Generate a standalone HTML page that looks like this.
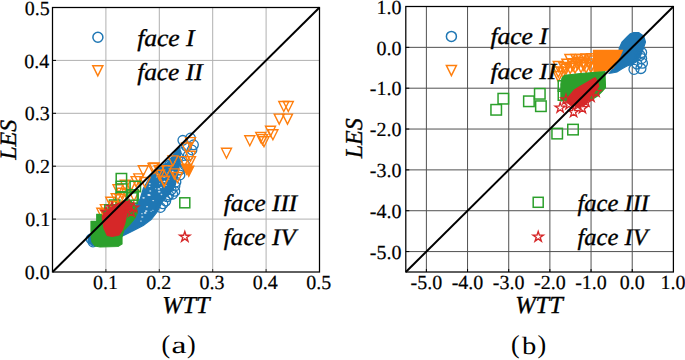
<!DOCTYPE html>
<html><head><meta charset="utf-8"><style>
html,body{margin:0;padding:0;background:#fff;}
body{width:685px;height:360px;overflow:hidden;}
svg{display:block;}
text{font-family:"Liberation Serif",serif;fill:#000;stroke:#000;stroke-width:0.45px;text-rendering:geometricPrecision;}
.tk{font-size:20px;}
.lg{font-size:24px;font-style:italic;}
.ax{font-size:24px;font-style:italic;}
.cap{font-size:26px;}
</style></head><body>
<svg width="685" height="360" viewBox="0 0 685 360">
<g id="a">
<line x1="105.9" y1="7.5" x2="105.9" y2="272" stroke="#b0b0b0" stroke-width="1"/>
<line x1="52.5" y1="219.1" x2="319.5" y2="219.1" stroke="#b0b0b0" stroke-width="1"/>
<line x1="159.3" y1="7.5" x2="159.3" y2="272" stroke="#b0b0b0" stroke-width="1"/>
<line x1="52.5" y1="166.2" x2="319.5" y2="166.2" stroke="#b0b0b0" stroke-width="1"/>
<line x1="212.7" y1="7.5" x2="212.7" y2="272" stroke="#b0b0b0" stroke-width="1"/>
<line x1="52.5" y1="113.3" x2="319.5" y2="113.3" stroke="#b0b0b0" stroke-width="1"/>
<line x1="266.1" y1="7.5" x2="266.1" y2="272" stroke="#b0b0b0" stroke-width="1"/>
<line x1="52.5" y1="60.4" x2="319.5" y2="60.4" stroke="#b0b0b0" stroke-width="1"/>
</g>
<g id="b">
<line x1="426.38" y1="6.5" x2="426.38" y2="272" stroke="#505050" stroke-width="1"/>
<line x1="405.8" y1="251.58" x2="673.4" y2="251.58" stroke="#505050" stroke-width="1"/>
<line x1="467.55" y1="6.5" x2="467.55" y2="272" stroke="#505050" stroke-width="1"/>
<line x1="405.8" y1="210.73" x2="673.4" y2="210.73" stroke="#505050" stroke-width="1"/>
<line x1="508.72" y1="6.5" x2="508.72" y2="272" stroke="#505050" stroke-width="1"/>
<line x1="405.8" y1="169.88" x2="673.4" y2="169.88" stroke="#505050" stroke-width="1"/>
<line x1="549.89" y1="6.5" x2="549.89" y2="272" stroke="#505050" stroke-width="1"/>
<line x1="405.8" y1="129.04" x2="673.4" y2="129.04" stroke="#505050" stroke-width="1"/>
<line x1="591.06" y1="6.5" x2="591.06" y2="272" stroke="#505050" stroke-width="1"/>
<line x1="405.8" y1="88.19" x2="673.4" y2="88.19" stroke="#505050" stroke-width="1"/>
<line x1="632.23" y1="6.5" x2="632.23" y2="272" stroke="#505050" stroke-width="1"/>
<line x1="405.8" y1="47.35" x2="673.4" y2="47.35" stroke="#505050" stroke-width="1"/>
</g>
<clipPath id="ca"><rect x="52.5" y="7.5" width="267.0" height="264.5"/></clipPath>
<clipPath id="cb"><rect x="405.8" y="6.5" width="267.59999999999997" height="265.5"/></clipPath>
<g clip-path="url(#ca)">
<path d="M88 241 L89 235 L94 231 L105 226 L115 221 L124.7 216 L130.2 212 L134 207 L138 202 L140.2 198.9 L143.3 188.6 L148.9 178.9 L153 173.3 L160 167.8 L167 163 L172 157 L176 151 L179 147 L181 152 L180 160 L179 168 L177 178 L175 186 L171 192 L166 197 L161.5 203.5 L157.5 211.5 L151.1 219.5 L143.3 225.5 L131.7 231.5 L120 237.2 L110 241.5 L100 245 L92 245.5Z" fill="#1f77b4" stroke="#1f77b4" stroke-width="1.2" stroke-linejoin="miter" fill-opacity="1"/>
<ellipse cx="162.51" cy="174.26" rx="0.64" ry="0.45" fill="#fff" fill-opacity="0.75"/>
<ellipse cx="149.38" cy="195.19" rx="1.26" ry="0.88" fill="#fff" fill-opacity="0.75"/>
<ellipse cx="164.24" cy="176.73" rx="1.28" ry="0.9" fill="#fff" fill-opacity="0.75"/>
<ellipse cx="141.96" cy="213.68" rx="0.8" ry="0.56" fill="#fff" fill-opacity="0.75"/>
<ellipse cx="152.96" cy="210.29" rx="0.73" ry="0.51" fill="#fff" fill-opacity="0.75"/>
<ellipse cx="155.64" cy="188.82" rx="0.64" ry="0.45" fill="#fff" fill-opacity="0.75"/>
<ellipse cx="168.58" cy="179.21" rx="0.82" ry="0.57" fill="#fff" fill-opacity="0.75"/>
<ellipse cx="164.59" cy="181.25" rx="0.81" ry="0.57" fill="#fff" fill-opacity="0.75"/>
<ellipse cx="150.25" cy="190.95" rx="0.97" ry="0.68" fill="#fff" fill-opacity="0.75"/>
<ellipse cx="153.18" cy="200.62" rx="1.02" ry="0.71" fill="#fff" fill-opacity="0.75"/>
<ellipse cx="164.36" cy="181.5" rx="1.19" ry="0.83" fill="#fff" fill-opacity="0.75"/>
<ellipse cx="158.87" cy="188.96" rx="1.22" ry="0.85" fill="#fff" fill-opacity="0.75"/>
<ellipse cx="149.8" cy="183.8" rx="1.01" ry="0.71" fill="#fff" fill-opacity="0.75"/>
<ellipse cx="157.6" cy="174.54" rx="1" ry="0.7" fill="#fff" fill-opacity="0.75"/>
<ellipse cx="161.65" cy="194.41" rx="1.07" ry="0.75" fill="#fff" fill-opacity="0.75"/>
<ellipse cx="142.27" cy="216.96" rx="1.15" ry="0.8" fill="#fff" fill-opacity="0.75"/>
<ellipse cx="156.48" cy="176.92" rx="0.67" ry="0.47" fill="#fff" fill-opacity="0.75"/>
<ellipse cx="145.16" cy="212.91" rx="1.3" ry="0.91" fill="#fff" fill-opacity="0.75"/>
<ellipse cx="159.57" cy="183.71" rx="0.66" ry="0.46" fill="#fff" fill-opacity="0.75"/>
<ellipse cx="151.12" cy="211.31" rx="0.71" ry="0.5" fill="#fff" fill-opacity="0.75"/>
<ellipse cx="140.97" cy="221.08" rx="0.97" ry="0.68" fill="#fff" fill-opacity="0.75"/>
<ellipse cx="169.24" cy="165.89" rx="0.86" ry="0.6" fill="#fff" fill-opacity="0.75"/>
<ellipse cx="147.02" cy="206.76" rx="0.97" ry="0.68" fill="#fff" fill-opacity="0.75"/>
<ellipse cx="172.72" cy="171.37" rx="0.76" ry="0.53" fill="#fff" fill-opacity="0.75"/>
<ellipse cx="149.52" cy="186.41" rx="0.85" ry="0.59" fill="#fff" fill-opacity="0.75"/>
<ellipse cx="148.58" cy="194.93" rx="1.23" ry="0.86" fill="#fff" fill-opacity="0.75"/>
<ellipse cx="143.56" cy="197.85" rx="1.24" ry="0.87" fill="#fff" fill-opacity="0.75"/>
<ellipse cx="173.14" cy="171.6" rx="1.16" ry="0.81" fill="#fff" fill-opacity="0.75"/>
<ellipse cx="146.14" cy="211.12" rx="1.29" ry="0.9" fill="#fff" fill-opacity="0.75"/>
<ellipse cx="167.61" cy="173.03" rx="0.98" ry="0.69" fill="#fff" fill-opacity="0.75"/>
<ellipse cx="174.7" cy="161.88" rx="0.78" ry="0.54" fill="#fff" fill-opacity="0.75"/>
<ellipse cx="159.24" cy="191.67" rx="1.23" ry="0.86" fill="#fff" fill-opacity="0.75"/>
<ellipse cx="161.07" cy="187.55" rx="0.97" ry="0.68" fill="#fff" fill-opacity="0.75"/>
<ellipse cx="163.37" cy="171.08" rx="0.96" ry="0.67" fill="#fff" fill-opacity="0.75"/>
<ellipse cx="165.73" cy="185.44" rx="0.96" ry="0.67" fill="#fff" fill-opacity="0.75"/>
<circle cx="182.8" cy="140.3" r="4.8" fill="none" stroke="#1f77b4" stroke-width="1.3"/>
<circle cx="190.5" cy="138" r="4.8" fill="none" stroke="#1f77b4" stroke-width="1.3"/>
<circle cx="186.6" cy="146.4" r="4.8" fill="none" stroke="#1f77b4" stroke-width="1.3"/>
<circle cx="193.5" cy="144.8" r="4.8" fill="none" stroke="#1f77b4" stroke-width="1.3"/>
<circle cx="182" cy="152.5" r="4.8" fill="none" stroke="#1f77b4" stroke-width="1.3"/>
<circle cx="178.2" cy="157" r="4.8" fill="none" stroke="#1f77b4" stroke-width="1.3"/>
<circle cx="188.2" cy="155.5" r="4.8" fill="none" stroke="#1f77b4" stroke-width="1.3"/>
<circle cx="174.4" cy="161.6" r="4.8" fill="none" stroke="#1f77b4" stroke-width="1.3"/>
<circle cx="169.8" cy="164.7" r="4.8" fill="none" stroke="#1f77b4" stroke-width="1.3"/>
<circle cx="166" cy="168.5" r="4.8" fill="none" stroke="#1f77b4" stroke-width="1.3"/>
<circle cx="185" cy="165" r="4.8" fill="none" stroke="#1f77b4" stroke-width="1.3"/>
<circle cx="180" cy="170" r="4.8" fill="none" stroke="#1f77b4" stroke-width="1.3"/>
<circle cx="192" cy="150" r="4.8" fill="none" stroke="#1f77b4" stroke-width="1.3"/>
<circle cx="178.75" cy="170" r="4.8" fill="none" stroke="#1f77b4" stroke-width="1.3"/>
<circle cx="180" cy="175" r="4.8" fill="none" stroke="#1f77b4" stroke-width="1.3"/>
<circle cx="171.25" cy="190" r="4.8" fill="none" stroke="#1f77b4" stroke-width="1.3"/>
<circle cx="168.75" cy="195" r="4.8" fill="none" stroke="#1f77b4" stroke-width="1.3"/>
<circle cx="174.9" cy="191.4" r="4.8" fill="none" stroke="#1f77b4" stroke-width="1.3"/>
<circle cx="172.8" cy="194.2" r="4.8" fill="none" stroke="#1f77b4" stroke-width="1.3"/>
<circle cx="167.2" cy="196.9" r="4.8" fill="none" stroke="#1f77b4" stroke-width="1.3"/>
<circle cx="176" cy="182" r="4.8" fill="none" stroke="#1f77b4" stroke-width="1.3"/>
<circle cx="175" cy="186" r="4.8" fill="none" stroke="#1f77b4" stroke-width="1.3"/>
<circle cx="165.8" cy="201.1" r="4.8" fill="none" stroke="#1f77b4" stroke-width="1.3"/>
<circle cx="163" cy="203.9" r="4.8" fill="none" stroke="#1f77b4" stroke-width="1.3"/>
<circle cx="160.5" cy="207.5" r="4.8" fill="none" stroke="#1f77b4" stroke-width="1.3"/>
<circle cx="91" cy="239" r="4.8" fill="none" stroke="#1f77b4" stroke-width="1.3"/>
<circle cx="93" cy="242" r="4.8" fill="none" stroke="#1f77b4" stroke-width="1.3"/>
<path d="M221.5 148.2H231.5L226.5 158.2Z" fill="none" stroke="#ff7f0e" stroke-width="1.4" stroke-linejoin="miter"/>
<path d="M244.8 135.7H254.8L249.8 145.7Z" fill="none" stroke="#ff7f0e" stroke-width="1.4" stroke-linejoin="miter"/>
<path d="M255.75 132.5H265.75L260.75 142.5Z" fill="none" stroke="#ff7f0e" stroke-width="1.4" stroke-linejoin="miter"/>
<path d="M257.5 134.6H267.5L262.5 144.6Z" fill="none" stroke="#ff7f0e" stroke-width="1.4" stroke-linejoin="miter"/>
<path d="M259 136.7H269L264 146.7Z" fill="none" stroke="#ff7f0e" stroke-width="1.4" stroke-linejoin="miter"/>
<path d="M265.5 126.3H275.5L270.5 136.3Z" fill="none" stroke="#ff7f0e" stroke-width="1.4" stroke-linejoin="miter"/>
<path d="M267.9 129.75H277.9L272.9 139.75Z" fill="none" stroke="#ff7f0e" stroke-width="1.4" stroke-linejoin="miter"/>
<path d="M274.2 114.1H284.2L279.2 124.1Z" fill="none" stroke="#ff7f0e" stroke-width="1.4" stroke-linejoin="miter"/>
<path d="M282.5 114.1H292.5L287.5 124.1Z" fill="none" stroke="#ff7f0e" stroke-width="1.4" stroke-linejoin="miter"/>
<path d="M278.8 101.5H288.8L283.8 111.5Z" fill="none" stroke="#ff7f0e" stroke-width="1.4" stroke-linejoin="miter"/>
<path d="M283.3 101.5H293.3L288.3 111.5Z" fill="none" stroke="#ff7f0e" stroke-width="1.4" stroke-linejoin="miter"/>
<path d="M185.5 137.6H195.5L190.5 147.6Z" fill="none" stroke="#ff7f0e" stroke-width="1.4" stroke-linejoin="miter"/>
<path d="M181.6 143H191.6L186.6 153Z" fill="none" stroke="#ff7f0e" stroke-width="1.4" stroke-linejoin="miter"/>
<path d="M185.5 151.3H195.5L190.5 161.3Z" fill="none" stroke="#ff7f0e" stroke-width="1.4" stroke-linejoin="miter"/>
<path d="M185.5 156.6H195.5L190.5 166.6Z" fill="none" stroke="#ff7f0e" stroke-width="1.4" stroke-linejoin="miter"/>
<path d="M167.9 155.9H177.9L172.9 165.9Z" fill="none" stroke="#ff7f0e" stroke-width="1.4" stroke-linejoin="miter"/>
<path d="M179.4 156.6H189.4L184.4 166.6Z" fill="none" stroke="#ff7f0e" stroke-width="1.4" stroke-linejoin="miter"/>
<path d="M169.4 168.9H179.4L174.4 178.9Z" fill="none" stroke="#ff7f0e" stroke-width="1.4" stroke-linejoin="miter"/>
<path d="M161.8 165.8H171.8L166.8 175.8Z" fill="none" stroke="#ff7f0e" stroke-width="1.4" stroke-linejoin="miter"/>
<path d="M154.2 165.8H164.2L159.2 175.8Z" fill="none" stroke="#ff7f0e" stroke-width="1.4" stroke-linejoin="miter"/>
<path d="M148 163.5H158L153 173.5Z" fill="none" stroke="#ff7f0e" stroke-width="1.4" stroke-linejoin="miter"/>
<path d="M172.5 172.5H182.5L177.5 182.5Z" fill="none" stroke="#ff7f0e" stroke-width="1.4" stroke-linejoin="miter"/>
<path d="M159.4 176.25H169.4L164.4 186.25Z" fill="none" stroke="#ff7f0e" stroke-width="1.4" stroke-linejoin="miter"/>
<path d="M138.3 165.8H148.3L143.3 175.8Z" fill="none" stroke="#ff7f0e" stroke-width="1.4" stroke-linejoin="miter"/>
<path d="M149.2 163H159.2L154.2 173Z" fill="none" stroke="#ff7f0e" stroke-width="1.4" stroke-linejoin="miter"/>
<path d="M154.6 170.3H164.6L159.6 180.3Z" fill="none" stroke="#ff7f0e" stroke-width="1.4" stroke-linejoin="miter"/>
<path d="M159.1 176.6H169.1L164.1 186.6Z" fill="none" stroke="#ff7f0e" stroke-width="1.4" stroke-linejoin="miter"/>
<path d="M133.8 173.9H143.8L138.8 183.9Z" fill="none" stroke="#ff7f0e" stroke-width="1.4" stroke-linejoin="miter"/>
<path d="M131.1 176.6H141.1L136.1 186.6Z" fill="none" stroke="#ff7f0e" stroke-width="1.4" stroke-linejoin="miter"/>
<path d="M140.1 177.5H150.1L145.1 187.5Z" fill="none" stroke="#ff7f0e" stroke-width="1.4" stroke-linejoin="miter"/>
<path d="M120.3 180.2H130.3L125.3 190.2Z" fill="none" stroke="#ff7f0e" stroke-width="1.4" stroke-linejoin="miter"/>
<path d="M125.7 181.1H135.7L130.7 191.1Z" fill="none" stroke="#ff7f0e" stroke-width="1.4" stroke-linejoin="miter"/>
<path d="M113 184.7H123L118 194.7Z" fill="none" stroke="#ff7f0e" stroke-width="1.4" stroke-linejoin="miter"/>
<path d="M116.7 188.3H126.7L121.7 198.3Z" fill="none" stroke="#ff7f0e" stroke-width="1.4" stroke-linejoin="miter"/>
<path d="M111.2 193.7H121.2L116.2 203.7Z" fill="none" stroke="#ff7f0e" stroke-width="1.4" stroke-linejoin="miter"/>
<path d="M105.8 197.3H115.8L110.8 207.3Z" fill="none" stroke="#ff7f0e" stroke-width="1.4" stroke-linejoin="miter"/>
<path d="M100.4 204.6H110.4L105.4 214.6Z" fill="none" stroke="#ff7f0e" stroke-width="1.4" stroke-linejoin="miter"/>
<path d="M96.8 208.2H106.8L101.8 218.2Z" fill="none" stroke="#ff7f0e" stroke-width="1.4" stroke-linejoin="miter"/>
<path d="M122 189.2H132L127 199.2Z" fill="none" stroke="#ff7f0e" stroke-width="1.4" stroke-linejoin="miter"/>
<path d="M129 191H139L134 201Z" fill="none" stroke="#ff7f0e" stroke-width="1.4" stroke-linejoin="miter"/>
<path d="M183.75 166.25H193.75L188.75 176.25Z" fill="#ff7f0e" stroke="#ff7f0e" stroke-width="1.4"/>
<path d="M181.6 164.3H191.6L186.6 174.3Z" fill="#ff7f0e" stroke="#ff7f0e" stroke-width="1.4"/>
<path d="M91.3 238 L91.3 221.5 L97 221.5 L97 214.5 L103 214.5 L103 210 L108 210 L108 207 L113 205 L116 204.3 L110.6 208 L106.9 210.9 L102.2 216.5 L103 222 L104 228.3 L107.3 235.5 L112.3 236.5 L119 235 L122 231 L122 244 L118 246.5 L100 247 L95 246 L92 242Z" fill="#2ca02c" stroke="#2ca02c" stroke-width="1.2" stroke-linejoin="miter" fill-opacity="1"/>
<path d="M124 201 L131 201 L136 206 L137.5 212 L135 218 L130 224 L124 230 L122 236 L121 231 L124.8 223.3 L126.5 215 L127.5 212 L130 209 L130 205Z" fill="#2ca02c" stroke="#2ca02c" stroke-width="1.2" stroke-linejoin="miter" fill-opacity="1"/>
<rect x="116.2" y="173.5" width="10.4" height="10.4" fill="none" stroke="#2ca02c" stroke-width="1.5"/>
<rect x="116.2" y="181.3" width="10.4" height="10.4" fill="none" stroke="#2ca02c" stroke-width="1.5"/>
<rect x="130.1" y="181.3" width="10.4" height="10.4" fill="none" stroke="#2ca02c" stroke-width="1.5"/>
<rect x="127.8" y="189.8" width="10.4" height="10.4" fill="none" stroke="#2ca02c" stroke-width="1.5"/>
<rect x="91.3" y="221.5" width="10.4" height="10.4" fill="none" stroke="#2ca02c" stroke-width="1.5"/>
<rect x="97" y="214.5" width="10.4" height="10.4" fill="none" stroke="#2ca02c" stroke-width="1.5"/>
<rect x="103" y="210" width="10.4" height="10.4" fill="none" stroke="#2ca02c" stroke-width="1.5"/>
<rect x="109.5" y="200" width="10.4" height="10.4" fill="none" stroke="#2ca02c" stroke-width="1.5"/>
<rect x="116" y="192.5" width="10.4" height="10.4" fill="none" stroke="#2ca02c" stroke-width="1.5"/>
<rect x="104.8" y="204.8" width="10.4" height="10.4" fill="none" stroke="#2ca02c" stroke-width="1.5"/>
<rect x="126.8" y="192.8" width="10.4" height="10.4" fill="none" stroke="#2ca02c" stroke-width="1.5"/>
<path d="M115 194.5H125L120 204.5Z" fill="none" stroke="#ff7f0e" stroke-width="1.4" stroke-linejoin="miter"/>
<path d="M108.4 201.5H118.4L113.4 211.5Z" fill="none" stroke="#ff7f0e" stroke-width="1.4" stroke-linejoin="miter"/>
<path d="M100.2 209.5H110.2L105.2 219.5Z" fill="none" stroke="#ff7f0e" stroke-width="1.4" stroke-linejoin="miter"/>
<path d="M103 222 L102.2 216.5 L106.9 210.9 L110.6 208 L116.3 204.3 L123.8 201.4 L128 201.5 L130 205 L130 209 L127.5 212 L126.5 215 L124.8 223.3 L122.3 230 L119 235 L112.3 236.5 L107.3 235.5 L104 228.3Z" fill="#d62728" stroke="#d62728" stroke-width="1.2" stroke-linejoin="miter" fill-opacity="1"/>
<path d="M129.1 199.8 L130.26 203.4 L134.05 203.39 L130.98 205.61 L132.16 209.21 L129.1 206.98 L126.04 209.21 L127.22 205.61 L124.15 203.39 L127.94 203.4Z" fill="none" stroke="#d62728" stroke-width="1.3" stroke-linejoin="miter"/>
<path d="M133.6 202.6 L134.76 206.2 L138.55 206.19 L135.48 208.41 L136.66 212.01 L133.6 209.78 L130.54 212.01 L131.72 208.41 L128.65 206.19 L132.44 206.2Z" fill="none" stroke="#d62728" stroke-width="1.3" stroke-linejoin="miter"/>
<path d="M131.3 207 L132.46 210.6 L136.25 210.59 L133.18 212.81 L134.36 216.41 L131.3 214.18 L128.24 216.41 L129.42 212.81 L126.35 210.59 L130.14 210.6Z" fill="none" stroke="#d62728" stroke-width="1.3" stroke-linejoin="miter"/>
<path d="M126 203.8 L127.16 207.4 L130.95 207.39 L127.88 209.61 L129.06 213.21 L126 210.98 L122.94 213.21 L124.12 209.61 L121.05 207.39 L124.84 207.4Z" fill="none" stroke="#d62728" stroke-width="1.3" stroke-linejoin="miter"/>
<path d="M106 206.8 L107.16 210.4 L110.95 210.39 L107.88 212.61 L109.06 216.21 L106 213.98 L102.94 216.21 L104.12 212.61 L101.05 210.39 L104.84 210.4Z" fill="none" stroke="#d62728" stroke-width="1.3" stroke-linejoin="miter"/>
<path d="M112 201.8 L113.16 205.4 L116.95 205.39 L113.88 207.61 L115.06 211.21 L112 208.98 L108.94 211.21 L110.12 207.61 L107.05 205.39 L110.84 205.4Z" fill="none" stroke="#d62728" stroke-width="1.3" stroke-linejoin="miter"/>
</g>
<g clip-path="url(#cb)">
<path d="M630.3 33.7 L633.7 32.5 L638.7 32.5 L643.7 36 L645.5 42 L644 46.5 L642.5 51 L640 57 L636 62 L632 64.5 L627 66 L622 68.7 L617 72 L612 73 L609.4 73.3 L612 70 L617 64 L619 58 L619.2 48.3 L622 42 L627 37Z" fill="#1f77b4" stroke="#1f77b4" stroke-width="1.2" stroke-linejoin="miter" fill-opacity="1"/>
<circle cx="634" cy="69.3" r="5" fill="none" stroke="#1f77b4" stroke-width="1.3"/>
<circle cx="640.9" cy="68.5" r="5" fill="none" stroke="#1f77b4" stroke-width="1.3"/>
<circle cx="642.4" cy="63.2" r="5" fill="none" stroke="#1f77b4" stroke-width="1.3"/>
<circle cx="641.6" cy="58.6" r="5" fill="none" stroke="#1f77b4" stroke-width="1.3"/>
<circle cx="640.1" cy="55.5" r="5" fill="none" stroke="#1f77b4" stroke-width="1.3"/>
<circle cx="641.6" cy="52.5" r="5" fill="none" stroke="#1f77b4" stroke-width="1.3"/>
<circle cx="637" cy="64" r="5" fill="none" stroke="#1f77b4" stroke-width="1.3"/>
<path d="M593.5 50.4 L622.4 50.4 L620 56 L616 63 L613 68 L606 70.4 L599 71.5 L594 72.3 L593.5 60Z" fill="#ff7f0e" stroke="#ff7f0e" stroke-width="1.2" stroke-linejoin="miter" fill-opacity="1"/>
<path d="M564.94 54.56H574.94L569.94 64.56Z" fill="none" stroke="#ff7f0e" stroke-width="1.5" stroke-linejoin="miter"/>
<path d="M571.01 54.47H581.01L576.01 64.47Z" fill="none" stroke="#ff7f0e" stroke-width="1.5" stroke-linejoin="miter"/>
<path d="M576.01 54.39H586.01L581.01 64.39Z" fill="none" stroke="#ff7f0e" stroke-width="1.5" stroke-linejoin="miter"/>
<path d="M581.12 54.01H591.12L586.12 64.01Z" fill="none" stroke="#ff7f0e" stroke-width="1.5" stroke-linejoin="miter"/>
<path d="M586.66 53.79H596.66L591.66 63.79Z" fill="none" stroke="#ff7f0e" stroke-width="1.5" stroke-linejoin="miter"/>
<path d="M567.01 58.8H577.01L572.01 68.8Z" fill="none" stroke="#ff7f0e" stroke-width="1.5" stroke-linejoin="miter"/>
<path d="M572.51 59.31H582.51L577.51 69.31Z" fill="none" stroke="#ff7f0e" stroke-width="1.5" stroke-linejoin="miter"/>
<path d="M578.73 58.04H588.73L583.73 68.04Z" fill="none" stroke="#ff7f0e" stroke-width="1.5" stroke-linejoin="miter"/>
<path d="M584.58 58.96H594.58L589.58 68.96Z" fill="none" stroke="#ff7f0e" stroke-width="1.5" stroke-linejoin="miter"/>
<path d="M565.18 63.62H575.18L570.18 73.62Z" fill="none" stroke="#ff7f0e" stroke-width="1.5" stroke-linejoin="miter"/>
<path d="M570.09 63.02H580.09L575.09 73.02Z" fill="none" stroke="#ff7f0e" stroke-width="1.5" stroke-linejoin="miter"/>
<path d="M576.03 62.56H586.03L581.03 72.56Z" fill="none" stroke="#ff7f0e" stroke-width="1.5" stroke-linejoin="miter"/>
<path d="M581.13 62.74H591.13L586.13 72.74Z" fill="none" stroke="#ff7f0e" stroke-width="1.5" stroke-linejoin="miter"/>
<path d="M585.94 62.46H595.94L590.94 72.46Z" fill="none" stroke="#ff7f0e" stroke-width="1.5" stroke-linejoin="miter"/>
<path d="M561.93 59.34H571.93L566.93 69.34Z" fill="none" stroke="#ff7f0e" stroke-width="1.5" stroke-linejoin="miter"/>
<path d="M561.02 64.14H571.02L566.02 74.14Z" fill="none" stroke="#ff7f0e" stroke-width="1.5" stroke-linejoin="miter"/>
<path d="M568 61.16H578L573 71.16Z" fill="none" stroke="#ff7f0e" stroke-width="1.5" stroke-linejoin="miter"/>
<path d="M578.95 60.78H588.95L583.95 70.78Z" fill="none" stroke="#ff7f0e" stroke-width="1.5" stroke-linejoin="miter"/>
<path d="M585.1 56H595.1L590.1 66Z" fill="none" stroke="#ff7f0e" stroke-width="1.5" stroke-linejoin="miter"/>
<path d="M574.41 57.21H584.41L579.41 67.21Z" fill="none" stroke="#ff7f0e" stroke-width="1.5" stroke-linejoin="miter"/>
<path d="M553.3 61.5H563.3L558.3 71.5Z" fill="none" stroke="#ff7f0e" stroke-width="1.5" stroke-linejoin="miter"/>
<path d="M553.3 67H563.3L558.3 77Z" fill="none" stroke="#ff7f0e" stroke-width="1.5" stroke-linejoin="miter"/>
<path d="M553.3 71.5H563.3L558.3 81.5Z" fill="none" stroke="#ff7f0e" stroke-width="1.5" stroke-linejoin="miter"/>
<path d="M558.8 62.5H568.8L563.8 72.5Z" fill="none" stroke="#ff7f0e" stroke-width="1.5" stroke-linejoin="miter"/>
<path d="M558 67.5H568L563 77.5Z" fill="none" stroke="#ff7f0e" stroke-width="1.5" stroke-linejoin="miter"/>
<path d="M564.6 75.3 L580.4 73.5 L596.3 72.3 L604.9 71.7 L605.5 87.5 L602.4 91.2 L597.5 96.1 L591.4 99.8 L568.2 101 L560.9 101 L560.9 84 L562 78Z" fill="#2ca02c" stroke="#2ca02c" stroke-width="1.2" stroke-linejoin="miter" fill-opacity="1"/>
<rect x="498.05" y="93.45" width="10.5" height="10.5" fill="none" stroke="#2ca02c" stroke-width="1.5"/>
<rect x="490.95" y="104.55" width="10.5" height="10.5" fill="none" stroke="#2ca02c" stroke-width="1.5"/>
<rect x="523.65" y="96.05" width="10.5" height="10.5" fill="none" stroke="#2ca02c" stroke-width="1.5"/>
<rect x="534.55" y="88.55" width="10.5" height="10.5" fill="none" stroke="#2ca02c" stroke-width="1.5"/>
<rect x="535.65" y="100.95" width="10.5" height="10.5" fill="none" stroke="#2ca02c" stroke-width="1.5"/>
<rect x="551.95" y="128.35" width="10.5" height="10.5" fill="none" stroke="#2ca02c" stroke-width="1.5"/>
<rect x="567.75" y="124.35" width="10.5" height="10.5" fill="none" stroke="#2ca02c" stroke-width="1.5"/>
<rect x="558.25" y="80.75" width="10.5" height="10.5" fill="none" stroke="#2ca02c" stroke-width="1.5"/>
<rect x="558.25" y="89.75" width="10.5" height="10.5" fill="none" stroke="#2ca02c" stroke-width="1.5"/>
<path d="M568.2 97.3 L574.3 90 L580.4 86.3 L586.5 82.7 L592.7 79 L595.1 77.8 L597.5 81.4 L598.8 86.3 L595.1 91.2 L591.4 94.9 L589 99 L587 103 L583 105.5 L577 106.5 L570 105 L567 101Z" fill="#d62728" stroke="#d62728" stroke-width="1.2" stroke-linejoin="miter" fill-opacity="1"/>
<path d="M560.2 102.4 L561.41 106.14 L565.34 106.13 L562.15 108.43 L563.37 112.17 L560.2 109.85 L557.03 112.17 L558.25 108.43 L555.06 106.13 L558.99 106.14Z" fill="none" stroke="#d62728" stroke-width="1.3" stroke-linejoin="miter"/>
<path d="M573.6 106.8 L574.81 110.54 L578.74 110.53 L575.55 112.83 L576.77 116.57 L573.6 114.25 L570.43 116.57 L571.65 112.83 L568.46 110.53 L572.39 110.54Z" fill="none" stroke="#d62728" stroke-width="1.3" stroke-linejoin="miter"/>
<path d="M582.4 102.9 L583.61 106.64 L587.54 106.63 L584.35 108.93 L585.57 112.67 L582.4 110.35 L579.23 112.67 L580.45 108.93 L577.26 106.63 L581.19 106.64Z" fill="none" stroke="#d62728" stroke-width="1.3" stroke-linejoin="miter"/>
<path d="M569 99.1 L570.21 102.84 L574.14 102.83 L570.95 105.13 L572.17 108.87 L569 106.55 L565.83 108.87 L567.05 105.13 L563.86 102.83 L567.79 102.84Z" fill="none" stroke="#d62728" stroke-width="1.3" stroke-linejoin="miter"/>
<path d="M578 99.6 L579.21 103.34 L583.14 103.33 L579.95 105.63 L581.17 109.37 L578 107.05 L574.83 109.37 L576.05 105.63 L572.86 103.33 L576.79 103.34Z" fill="none" stroke="#d62728" stroke-width="1.3" stroke-linejoin="miter"/>
<path d="M586 96.6 L587.21 100.34 L591.14 100.33 L587.95 102.63 L589.17 106.37 L586 104.05 L582.83 106.37 L584.05 102.63 L580.86 100.33 L584.79 100.34Z" fill="none" stroke="#d62728" stroke-width="1.3" stroke-linejoin="miter"/>
<path d="M591 91.6 L592.21 95.34 L596.14 95.33 L592.95 97.63 L594.17 101.37 L591 99.05 L587.83 101.37 L589.05 97.63 L585.86 95.33 L589.79 95.34Z" fill="none" stroke="#d62728" stroke-width="1.3" stroke-linejoin="miter"/>
<path d="M596 86.6 L597.21 90.34 L601.14 90.33 L597.95 92.63 L599.17 96.37 L596 94.05 L592.83 96.37 L594.05 92.63 L590.86 90.33 L594.79 90.34Z" fill="none" stroke="#d62728" stroke-width="1.3" stroke-linejoin="miter"/>
<path d="M566 94.1 L567.21 97.84 L571.14 97.83 L567.95 100.13 L569.17 103.87 L566 101.55 L562.83 103.87 L564.05 100.13 L560.86 97.83 L564.79 97.84Z" fill="none" stroke="#d62728" stroke-width="1.3" stroke-linejoin="miter"/>
</g>
<line x1="52.5" y1="219.1" x2="56" y2="219.1" stroke="#000" stroke-width="1"/>
<line x1="105.9" y1="272" x2="105.9" y2="269" stroke="#333" stroke-width="1"/>
<line x1="52.5" y1="166.2" x2="56" y2="166.2" stroke="#000" stroke-width="1"/>
<line x1="159.3" y1="272" x2="159.3" y2="269" stroke="#333" stroke-width="1"/>
<line x1="52.5" y1="113.3" x2="56" y2="113.3" stroke="#000" stroke-width="1"/>
<line x1="212.7" y1="272" x2="212.7" y2="269" stroke="#333" stroke-width="1"/>
<line x1="52.5" y1="60.4" x2="56" y2="60.4" stroke="#000" stroke-width="1"/>
<line x1="266.1" y1="272" x2="266.1" y2="269" stroke="#333" stroke-width="1"/>
<line x1="405.8" y1="251.58" x2="409.3" y2="251.58" stroke="#000" stroke-width="1"/>
<line x1="426.38" y1="272" x2="426.38" y2="269" stroke="#000" stroke-width="1"/>
<line x1="405.8" y1="210.73" x2="409.3" y2="210.73" stroke="#000" stroke-width="1"/>
<line x1="467.55" y1="272" x2="467.55" y2="269" stroke="#000" stroke-width="1"/>
<line x1="405.8" y1="169.88" x2="409.3" y2="169.88" stroke="#000" stroke-width="1"/>
<line x1="508.72" y1="272" x2="508.72" y2="269" stroke="#000" stroke-width="1"/>
<line x1="405.8" y1="129.04" x2="409.3" y2="129.04" stroke="#000" stroke-width="1"/>
<line x1="549.89" y1="272" x2="549.89" y2="269" stroke="#000" stroke-width="1"/>
<line x1="405.8" y1="88.19" x2="409.3" y2="88.19" stroke="#000" stroke-width="1"/>
<line x1="591.06" y1="272" x2="591.06" y2="269" stroke="#000" stroke-width="1"/>
<line x1="405.8" y1="47.35" x2="409.3" y2="47.35" stroke="#000" stroke-width="1"/>
<line x1="632.23" y1="272" x2="632.23" y2="269" stroke="#000" stroke-width="1"/>
<line x1="52.5" y1="272" x2="319.5" y2="7.5" stroke="#000" stroke-width="2"/>
<line x1="405.8" y1="272" x2="673.4" y2="6.5" stroke="#000" stroke-width="2"/>
<rect x="52.5" y="7.5" width="267" height="264.5" fill="none" stroke="#000" stroke-width="1.25"/>
<rect x="405.8" y="6.5" width="267.6" height="265.5" fill="none" stroke="#000" stroke-width="1.25"/>
<circle cx="97.9" cy="37.3" r="5" fill="none" stroke="#1f77b4" stroke-width="1.5"/>
<path d="M92.8 65.8H102.8L97.8 75.8Z" fill="none" stroke="#ff7f0e" stroke-width="1.5" stroke-linejoin="miter"/>
<rect x="179.8" y="197.8" width="10" height="10" fill="none" stroke="#2ca02c" stroke-width="1.5"/>
<path d="M184.8 231.5 L186.01 235.24 L189.94 235.23 L186.75 237.53 L187.97 241.27 L184.8 238.95 L181.63 241.27 L182.85 237.53 L179.66 235.23 L183.59 235.24Z" fill="none" stroke="#d62728" stroke-width="1.4" stroke-linejoin="miter"/>
<circle cx="451.4" cy="36.4" r="5" fill="none" stroke="#1f77b4" stroke-width="1.5"/>
<path d="M446.4 65.6H456.4L451.4 75.6Z" fill="none" stroke="#ff7f0e" stroke-width="1.5" stroke-linejoin="miter"/>
<rect x="533.2" y="197.3" width="10" height="10" fill="none" stroke="#2ca02c" stroke-width="1.5"/>
<path d="M538.2 231.4 L539.41 235.14 L543.34 235.13 L540.15 237.43 L541.37 241.17 L538.2 238.85 L535.03 241.17 L536.25 237.43 L533.06 235.13 L536.99 235.14Z" fill="none" stroke="#d62728" stroke-width="1.4" stroke-linejoin="miter"/>
<text transform="translate(137.13,45.59) scale(1.0648,1.0023)" style="font-size:24px;font-style:italic;stroke-width:0.35px">face I</text>
<text transform="translate(137.14,79.77) scale(1.0560,1.0069)" style="font-size:24px;font-style:italic;stroke-width:0.35px">face II</text>
<text transform="translate(223.84,210.73) scale(1.0482,0.9931)" style="font-size:24px;font-style:italic;stroke-width:0.35px">face III</text>
<text transform="translate(223.84,245.03) scale(1.0482,0.9931)" style="font-size:24px;font-style:italic;stroke-width:0.35px">face IV</text>
<text transform="translate(490.43,44.28) scale(1.0612,0.9839)" style="font-size:24px;font-style:italic;stroke-width:0.35px">face I</text>
<text transform="translate(490.43,78.62) scale(1.0608,0.9563)" style="font-size:24px;font-style:italic;stroke-width:0.35px">face II</text>
<text transform="translate(577.54,210.63) scale(1.0213,0.9931)" style="font-size:24px;font-style:italic;stroke-width:0.35px">face III</text>
<text transform="translate(577.54,244.63) scale(1.0213,0.9931)" style="font-size:24px;font-style:italic;stroke-width:0.35px">face IV</text>
<text transform="translate(162.22,312.75) scale(1.0162,1.0125)" style="font-size:24px;font-style:italic;stroke-width:0.35px">WTT</text>
<text transform="translate(515.21,313.05) scale(1.0205,1.0188)" style="font-size:24px;font-style:italic;stroke-width:0.35px">WTT</text>
<text transform="translate(15.95,159.75) rotate(-90) scale(1.0013,0.9812)" style="font-size:24px;font-style:italic;stroke-width:0.35px">LES</text>
<text transform="translate(361.95,158.25) rotate(-90) scale(1.0013,1.0125)" style="font-size:24px;font-style:italic;stroke-width:0.35px">LES</text>
<text x="24.75" y="279.10" style="font-size:20px;stroke-width:0.2px">0.0</text>
<text x="25.25" y="226.20" style="font-size:20px;stroke-width:0.2px">0.1</text>
<text x="25.00" y="173.30" style="font-size:20px;stroke-width:0.2px">0.2</text>
<text x="24.75" y="120.40" style="font-size:20px;stroke-width:0.2px">0.3</text>
<text x="24.25" y="67.50" style="font-size:20px;stroke-width:0.2px">0.4</text>
<text x="24.75" y="14.60" style="font-size:20px;stroke-width:0.2px">0.5</text>
<text x="92.95" y="289.00" style="font-size:20px;stroke-width:0.2px">0.1</text>
<text x="146.23" y="289.00" style="font-size:20px;stroke-width:0.2px">0.2</text>
<text x="199.50" y="289.00" style="font-size:20px;stroke-width:0.2px">0.3</text>
<text x="252.65" y="289.00" style="font-size:20px;stroke-width:0.2px">0.4</text>
<text x="306.30" y="289.00" style="font-size:20px;stroke-width:0.2px">0.5</text>
<text x="376.55" y="13.80" style="font-size:20px;stroke-width:0.2px">1.0</text>
<text x="376.55" y="54.65" style="font-size:20px;stroke-width:0.2px">0.0</text>
<text x="369.80" y="95.49" style="font-size:20px;stroke-width:0.2px">-1.0</text>
<text x="369.80" y="136.34" style="font-size:20px;stroke-width:0.2px">-2.0</text>
<text x="369.80" y="177.18" style="font-size:20px;stroke-width:0.2px">-3.0</text>
<text x="369.80" y="218.03" style="font-size:20px;stroke-width:0.2px">-4.0</text>
<text x="369.80" y="258.88" style="font-size:20px;stroke-width:0.2px">-5.0</text>
<text x="410.51" y="289.00" style="font-size:20px;stroke-width:0.2px">-5.0</text>
<text x="451.68" y="289.00" style="font-size:20px;stroke-width:0.2px">-4.0</text>
<text x="492.85" y="289.00" style="font-size:20px;stroke-width:0.2px">-3.0</text>
<text x="534.02" y="289.00" style="font-size:20px;stroke-width:0.2px">-2.0</text>
<text x="575.19" y="289.00" style="font-size:20px;stroke-width:0.2px">-1.0</text>
<text x="619.73" y="289.00" style="font-size:20px;stroke-width:0.2px">0.0</text>
<text x="660.40" y="289.00" style="font-size:20px;stroke-width:0.2px">1.0</text>
<text x="161.55" y="352.50" style="font-size:26px;stroke-width:0px">(</text>
<text transform="translate(171.50,353.07) scale(1.2976,0.9280)" style="font-size:26px;stroke-width:0px">a</text>
<text x="186.90" y="352.50" style="font-size:26px;stroke-width:0px">)</text>
<text x="511.05" y="352.50" style="font-size:26px;stroke-width:0px">(</text>
<text transform="translate(522.00,353.76) scale(1.1000,0.9589)" style="font-size:26px;stroke-width:0px">b</text>
<text x="537.40" y="352.50" style="font-size:26px;stroke-width:0px">)</text>
</svg>
</body></html>
